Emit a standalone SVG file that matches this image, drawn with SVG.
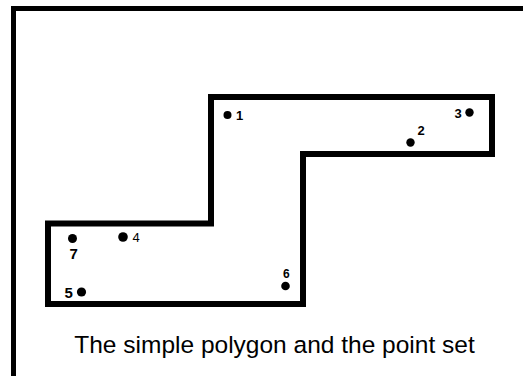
<svg xmlns="http://www.w3.org/2000/svg" width="523" height="376" viewBox="0 0 523 376">
<style>
.frame{fill:none;stroke:#000;stroke-width:5}
.poly{fill:none;stroke:#000;stroke-width:6;stroke-linejoin:miter}
.pt{fill:#000}
.lbl{font-family:"Liberation Sans",Arial,sans-serif;font-weight:bold;font-size:13px;fill:#000}
.cap{font-family:"Liberation Sans",Arial,sans-serif;font-size:24.5px;fill:#000}
</style>
<rect width="523" height="376" fill="#fff"/>
<rect class="frame" x="13.5" y="8.5" width="530" height="390"/>
<g id="polygon">
<path class="poly" d="M211,97 L492,97 L492,154 L303,154 L303,304 L48,304 L48,223.5 L211,223.5 Z"/>
</g>
<g id="p1"><circle class="pt" cx="227.5" cy="115" r="4"/><text class="lbl" x="236" y="120">1</text></g>
<g id="p2"><circle class="pt" cx="410.5" cy="142.5" r="4.2"/><text class="lbl" x="417.5" y="135">2</text></g>
<g id="p3"><circle class="pt" cx="469.5" cy="112.5" r="4.2"/><text class="lbl" x="454.5" y="117.5">3</text></g>
<g id="p4"><circle class="pt" cx="123" cy="237" r="4.8"/><text class="lbl" x="132.5" y="242" style="font-weight:normal">4</text></g>
<g id="p5"><circle class="pt" cx="81.5" cy="292" r="4.6"/><text class="lbl" x="64.5" y="297.5" style="font-size:15px">5</text></g>
<g id="p6"><circle class="pt" cx="285.5" cy="286" r="4.3"/><text class="lbl" x="283" y="277.5" style="font-size:12px">6</text></g>
<g id="p7"><circle class="pt" cx="72.5" cy="238.5" r="4.5"/><text class="lbl" x="69.5" y="259" style="font-size:15px">7</text></g>
<text class="cap" x="274.5" y="353" text-anchor="middle">The simple polygon and the point set</text>
</svg>
